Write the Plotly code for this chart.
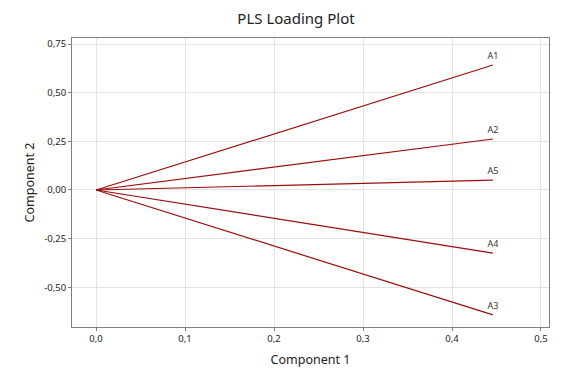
import plotly.graph_objects as go

labels = ["A1", "A2", "A5", "A4", "A3"]
comp1 = [0.446, 0.446, 0.446, 0.446, 0.446]
comp2 = [0.642, 0.262, 0.051, -0.324, -0.642]

x_ticks = [0.0, 0.1, 0.2, 0.3, 0.4, 0.5]
x_ticktext = ["0,0", "0,1", "0,2", "0,3", "0,4", "0,5"]
y_ticks = [-0.5, -0.25, 0.0, 0.25, 0.5, 0.75]
y_ticktext = ["-0,50", "-0,25", "0,00", "0,25", "0,50", "0,75"]

font_family = "Noto Sans, Open Sans, sans-serif"
line_color = "#9b0d0d"

fig = go.Figure()
for lab, x, y in zip(labels, comp1, comp2):
    fig.add_trace(go.Scatter(x=[0, x], y=[0, y], mode="lines",
                             line=dict(color=line_color, width=1.2),
                             showlegend=False, hoverinfo="skip"))
fig.add_trace(go.Scatter(x=comp1, y=comp2, mode="markers+text", text=labels,
                         textposition="top center",
                         marker=dict(size=5, color="rgba(0,0,0,0)"),
                         textfont=dict(size=9, color="#333333", family=font_family),
                         showlegend=False))

axis_common = dict(showline=True, linecolor="#7f7f7f", linewidth=1, mirror=True,
                   showgrid=True, gridcolor="#e3e3e3", gridwidth=1, zeroline=False,
                   ticks="outside", ticklen=3, tickcolor="#7f7f7f",
                   tickfont=dict(size=9.5, color="#222222", family=font_family))

fig.update_layout(
    width=576, height=384,
    paper_bgcolor="white", plot_bgcolor="white",
    margin=dict(l=64, r=35, t=30, b=65),
    title=dict(text="PLS Loading Plot", x=0.5, xanchor="center", y=1 - 11 / 384, yanchor="middle",
               font=dict(size=15, color="#222222", family=font_family)),
    xaxis=dict(range=[-0.027, 0.509], tickvals=x_ticks, ticktext=x_ticktext,
               title=dict(text="Component 1", font=dict(size=12.5, color="#222222", family=font_family), standoff=10),
               **axis_common),
    yaxis=dict(range=[-0.704, 0.781], tickvals=y_ticks, ticktext=y_ticktext,
               title=dict(text="Component 2", font=dict(size=12.5, color="#222222", family=font_family), standoff=6),
               **axis_common),
)

fig.write_html("out.html")
